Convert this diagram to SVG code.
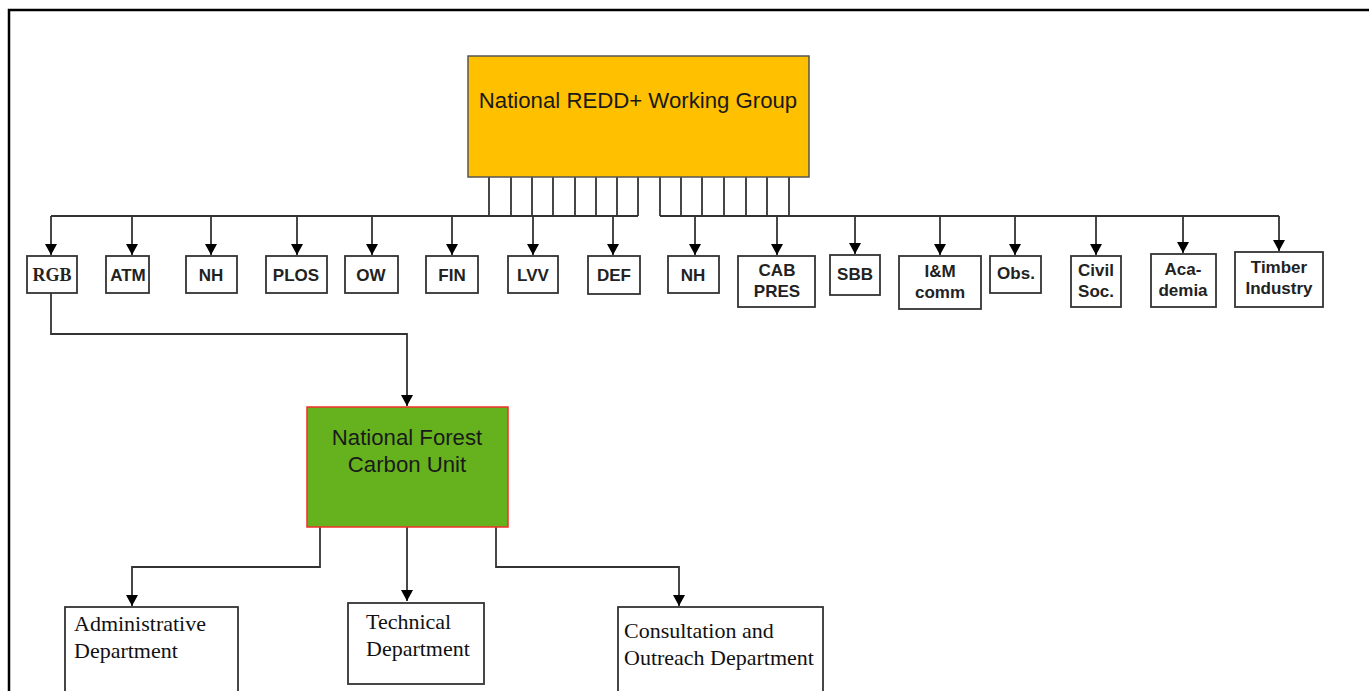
<svg xmlns="http://www.w3.org/2000/svg" width="1369" height="691" viewBox="0 0 1369 691">
<defs>
<marker id="arr" markerUnits="userSpaceOnUse" markerWidth="11" markerHeight="12" refX="11" refY="6" orient="auto" viewBox="0 0 11 12">
<path d="M0,0 L11,6 L0,12 Z" fill="#000"/>
</marker>
<style>
.frame{fill:none;stroke:#000;stroke-width:2.5}
.bx{fill:#fff;stroke:#333;stroke-width:1.8}
.sm{font-family:"Liberation Sans",Arial,sans-serif;font-weight:bold;font-size:17px;fill:#222;text-anchor:middle}
.rgb{font-family:"Liberation Serif","Times New Roman",serif;font-weight:bold;font-size:18px;fill:#222;text-anchor:middle}
.big{font-family:"Liberation Sans",Arial,sans-serif;font-size:22.2px;fill:#1a1a1a;text-anchor:middle}
.dep{font-family:"Liberation Serif","Times New Roman",serif;font-size:22px;fill:#111}
.ln{fill:none;stroke:#333;stroke-width:1.8}
.la{fill:none;stroke:#333;stroke-width:1.8;marker-end:url(#arr)}
</style>
</defs>
<rect x="0" y="0" width="1369" height="691" fill="#fff"/>
<path class="frame" d="M9,700 L9,10 L1375,10"/>

<g id="connectors">
<path class="ln" d="M489,177V216 M511,177V216 M532,177V216 M553,177V216 M575,177V216 M596,177V216 M617,177V216 M638,177V216"/>
<path class="ln" d="M660,177V216 M681,177V216 M702,177V216 M724,177V216 M746,177V216 M767,177V216 M789,177V216"/>
<path class="ln" d="M51,216H638 M660,216H1279"/>
<path class="la" d="M51,216V255"/>
<path class="la" d="M132,216V255"/>
<path class="la" d="M211,216V255"/>
<path class="la" d="M297,216V255"/>
<path class="la" d="M372,216V255"/>
<path class="la" d="M452,216V255"/>
<path class="la" d="M533,216V255"/>
<path class="la" d="M613,216V255"/>
<path class="la" d="M695,216V255"/>
<path class="la" d="M777,216V255"/>
<path class="la" d="M855,216V254"/>
<path class="la" d="M940,216V255"/>
<path class="la" d="M1015,216V255"/>
<path class="la" d="M1096,216V255"/>
<path class="la" d="M1183,216V253"/>
<path class="la" d="M1279,216V251"/>
<path class="la" d="M51,293V334H407V406"/>
<path class="la" d="M320,527V567H132V606"/>
<path class="la" d="M407,527V601"/>
<path class="la" d="M496,527V567H679V606"/>
</g>

<g id="n-redd">
<rect x="468" y="56" width="341" height="121" fill="#FFC000" stroke="#555" stroke-width="1.5"/>
<text class="big" x="638" y="108">National REDD+ Working Group</text>
</g>

<g id="n-rgb"><rect class="bx" x="27" y="256" width="50" height="37"/><text class="rgb" x="52" y="281">RGB</text></g>
<g id="n-atm"><rect class="bx" x="106" y="256" width="43" height="37"/><text class="sm" x="128" y="281">ATM</text></g>
<g id="n-nh1"><rect class="bx" x="186" y="256" width="51" height="37"/><text class="sm" x="211" y="281">NH</text></g>
<g id="n-plos"><rect class="bx" x="266" y="256" width="61" height="37"/><text class="sm" x="296" y="281">PLOS</text></g>
<g id="n-ow"><rect class="bx" x="345" y="256" width="53" height="37"/><text class="sm" x="371" y="281">OW</text></g>
<g id="n-fin"><rect class="bx" x="426" y="256" width="52" height="37"/><text class="sm" x="452" y="281">FIN</text></g>
<g id="n-lvv"><rect class="bx" x="508" y="256" width="50" height="37"/><text class="sm" x="533" y="281">LVV</text></g>
<g id="n-def"><rect class="bx" x="588" y="256" width="52" height="38"/><text class="sm" x="614" y="281">DEF</text></g>
<g id="n-nh2"><rect class="bx" x="668" y="256" width="51" height="37"/><text class="sm" x="693" y="281">NH</text></g>
<g id="n-cab"><rect class="bx" x="738" y="256" width="77" height="51"/><text class="sm" x="777" y="276">CAB</text><text class="sm" x="777" y="297">PRES</text></g>
<g id="n-sbb"><rect class="bx" x="830" y="255" width="50" height="40"/><text class="sm" x="855" y="280">SBB</text></g>
<g id="n-im"><rect class="bx" x="899" y="256" width="82" height="53"/><text class="sm" x="940" y="277">I&amp;M</text><text class="sm" x="940" y="298">comm</text></g>
<g id="n-obs"><rect class="bx" x="990" y="256" width="51" height="37"/><text class="sm" x="1016" y="279">Obs.</text></g>
<g id="n-civil"><rect class="bx" x="1071" y="256" width="50" height="51"/><text class="sm" x="1096" y="276">Civil</text><text class="sm" x="1096" y="297">Soc.</text></g>
<g id="n-acad"><rect class="bx" x="1151" y="254" width="65" height="53"/><text class="sm" x="1183" y="275">Aca-</text><text class="sm" x="1183" y="296">demia</text></g>
<g id="n-timber"><rect class="bx" x="1235" y="252" width="88" height="55"/><text class="sm" x="1279" y="273">Timber</text><text class="sm" x="1279" y="294">Industry</text></g>

<g id="n-nfcu">
<rect x="307" y="407" width="201" height="120" fill="#66B21E" stroke="#F0302A" stroke-width="1.5"/>
<text class="big" x="407" y="445">National Forest</text>
<text class="big" x="407" y="472">Carbon Unit</text>
</g>

<g id="n-admin">
<rect class="bx" x="65" y="607" width="173" height="100"/>
<text class="dep" x="74" y="631">Administrative</text>
<text class="dep" x="74" y="658">Department</text>
</g>
<g id="n-tech">
<rect class="bx" x="348" y="603" width="136" height="81"/>
<text class="dep" x="366" y="629">Technical</text>
<text class="dep" x="366" y="656">Department</text>
</g>
<g id="n-cons">
<rect class="bx" x="618" y="607" width="205" height="100"/>
<text class="dep" x="624" y="638">Consultation and</text>
<text class="dep" x="624" y="665">Outreach Department</text>
</g>
</svg>
